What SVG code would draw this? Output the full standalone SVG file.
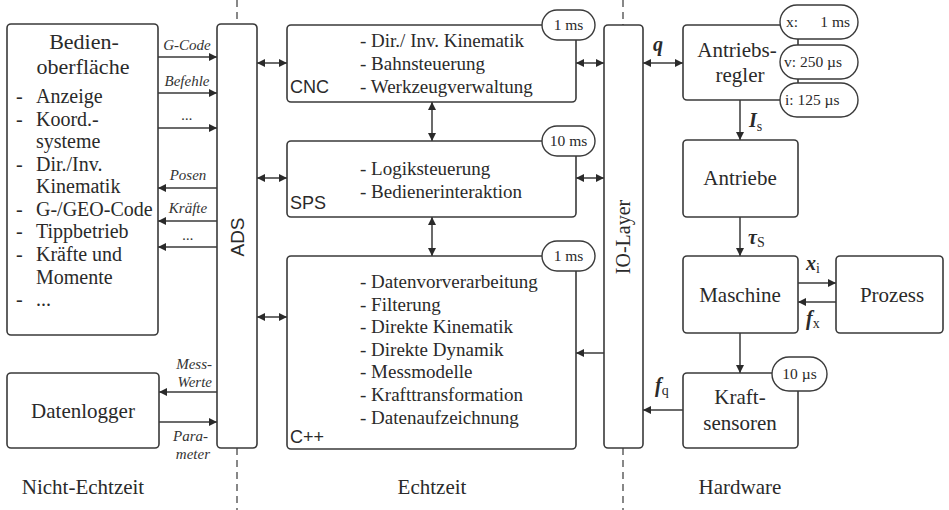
<svg xmlns="http://www.w3.org/2000/svg" width="949" height="510" viewBox="0 0 949 510">
<style>
.box{fill:#fff;stroke:#3a3a3a;stroke-width:1.6}
.pill{fill:#fff;stroke:#3a3a3a;stroke-width:1.4}
.ln{fill:none;stroke:#3a3a3a;stroke-width:1.5}
.dash{fill:none;stroke:#555;stroke-width:1.4;stroke-dasharray:7,5}
.s{font-family:"Liberation Serif","DejaVu Serif",serif;fill:#2a2a2a}
.ss{font-family:"Liberation Sans","DejaVu Sans",sans-serif;fill:#2a2a2a}
.lst{font-size:19px}
.lft{font-size:20px}
.ttl{font-size:22px}
.hw{font-size:21px}
.it{font-family:"Liberation Serif",serif;font-style:italic;font-size:15px;fill:#333}
.bdg{font-size:15.5px}
.m{font-family:"Liberation Serif",serif;font-style:italic;font-weight:bold;font-size:20px;fill:#2a2a2a}
.sub{font-family:"Liberation Serif",serif;font-style:normal;font-weight:normal;font-size:14px}
.mid{text-anchor:middle}
</style>
<defs>
<marker id="ah" viewBox="0 0 10 10" refX="10" refY="5" markerWidth="10" markerHeight="8" markerUnits="userSpaceOnUse" orient="auto-start-reverse">
<path d="M0,0 L10,5 L0,10 z" fill="#2a2a2a"/>
</marker>
</defs>

<g id="dividers">
<path class="dash" d="M237,0 V24 M237,448 V510 M623,0 V25 M623,448 V510"/>
</g>

<g id="connectors">
<path class="ln" marker-end="url(#ah)" d="M158,57 H217"/>
<path class="ln" marker-end="url(#ah)" d="M158,93 H217"/>
<path class="ln" marker-end="url(#ah)" d="M158,128 H217"/>
<path class="ln" marker-end="url(#ah)" d="M217,188 H158"/>
<path class="ln" marker-end="url(#ah)" d="M217,221 H158"/>
<path class="ln" marker-end="url(#ah)" d="M217,247 H158"/>
<path class="ln" marker-end="url(#ah)" d="M217,392 H159"/>
<path class="ln" marker-end="url(#ah)" d="M159,422 H217"/>
<path class="ln" marker-start="url(#ah)" marker-end="url(#ah)" d="M257,63 H287"/>
<path class="ln" marker-start="url(#ah)" marker-end="url(#ah)" d="M257,178 H287"/>
<path class="ln" marker-start="url(#ah)" marker-end="url(#ah)" d="M257,317 H287"/>
<path class="ln" marker-start="url(#ah)" marker-end="url(#ah)" d="M432,102 V141"/>
<path class="ln" marker-start="url(#ah)" marker-end="url(#ah)" d="M432,217 V256"/>
<path class="ln" marker-start="url(#ah)" marker-end="url(#ah)" d="M576,63 H604"/>
<path class="ln" marker-start="url(#ah)" marker-end="url(#ah)" d="M576,178 H604"/>
<path class="ln" marker-end="url(#ah)" d="M604,353 H576"/>
<path class="ln" marker-start="url(#ah)" marker-end="url(#ah)" d="M643,63 H683"/>
<path class="ln" marker-end="url(#ah)" d="M740,100 V140"/>
<path class="ln" marker-end="url(#ah)" d="M740,217 V256"/>
<path class="ln" marker-end="url(#ah)" d="M798,283 H836"/>
<path class="ln" marker-end="url(#ah)" d="M836,302 H798"/>
<path class="ln" marker-end="url(#ah)" d="M740,333 V373"/>
<path class="ln" marker-end="url(#ah)" d="M683,410 H643"/>
<text class="it mid" x="187" y="50">G-Code</text>
<text class="it mid" x="187" y="86">Befehle</text>
<text class="it mid" x="187" y="120">...</text>
<text class="it mid" x="188" y="180">Posen</text>
<text class="it mid" x="188" y="213">Kräfte</text>
<text class="it mid" x="188" y="240">...</text>
<text class="it" x="212" y="369" text-anchor="end">Mess-</text>
<text class="it" x="212" y="387" text-anchor="end">Werte</text>
<text class="it" x="208" y="441" text-anchor="end">Para-</text>
<text class="it" x="210" y="459" text-anchor="end">meter</text>
<text class="m" x="653" y="51">q</text>
<text class="m" x="749" y="127">I<tspan class="sub" dy="4">s</tspan></text>
<text class="m" x="748" y="244">τ<tspan class="sub" dy="3" font-size="16">S</tspan></text>
<text class="m" x="806" y="270">x<tspan class="sub" dy="3">i</tspan></text>
<text class="m" x="806" y="325">f<tspan class="sub" dy="3">x</tspan></text>
<text class="m" x="655" y="392">f<tspan class="sub" dy="3">q</tspan></text>
</g>

<g id="bedienoberflaeche">
<rect class="box" x="7" y="24" width="151" height="311" rx="4"/>
<text class="s ttl mid" x="84" y="49">Bedien-</text>
<text class="s ttl mid" x="83" y="74">oberfläche</text>
<g class="s lft">
<text x="16" y="103">-</text><text x="36" y="103">Anzeige</text>
<text x="16" y="126">-</text><text x="36" y="126">Koord.-</text>
<text x="36" y="148">systeme</text>
<text x="16" y="171">-</text><text x="36" y="171">Dir./Inv.</text>
<text x="36" y="193">Kinematik</text>
<text x="16" y="216">-</text><text x="36" y="216">G-/GEO-Code</text>
<text x="16" y="238">-</text><text x="36" y="238">Tippbetrieb</text>
<text x="16" y="261">-</text><text x="36" y="261">Kräfte und</text>
<text x="36" y="284">Momente</text>
<text x="16" y="306">-</text><text x="36" y="306">...</text>
</g>
</g>

<g id="datenlogger">
<rect class="box" x="7" y="373" width="152" height="75" rx="4"/>
<text class="s mid" font-family="Liberation Serif, serif" font-size="21" x="83" y="418">Datenlogger</text>
</g>

<g id="ads">
<rect class="box" x="217" y="24" width="40" height="424" rx="4"/>
<text class="ss mid" font-size="19" transform="translate(244,237) rotate(-90)">ADS</text>
</g>

<g id="cnc">
<rect class="box" x="287" y="25" width="289" height="77" rx="4"/>
<text class="ss" font-size="18" x="290" y="93">CNC</text>
<g class="s lst">
<text x="360" y="47">- Dir./ Inv. Kinematik</text>
<text x="360" y="70">- Bahnsteuerung</text>
<text x="360" y="93">- Werkzeugverwaltung</text>
</g>
<rect class="pill" x="542" y="10" width="53" height="30" rx="15"/>
<text class="s bdg mid" x="568.5" y="30">1 ms</text>
</g>

<g id="sps">
<rect class="box" x="287" y="141" width="289" height="76" rx="4"/>
<text class="ss" font-size="18" x="290" y="209">SPS</text>
<g class="s lst">
<text x="360" y="175">- Logiksteuerung</text>
<text x="360" y="198">- Bedienerinteraktion</text>
</g>
<rect class="pill" x="542" y="126" width="53" height="30" rx="15"/>
<text class="s bdg mid" x="568.5" y="146">10 ms</text>
</g>

<g id="cpp">
<rect class="box" x="287" y="256" width="289" height="193" rx="4"/>
<text class="ss" font-size="18" x="290" y="443">C++</text>
<g class="s lst">
<text x="360" y="288">- Datenvorverarbeitung</text>
<text x="360" y="311">- Filterung</text>
<text x="360" y="333">- Direkte Kinematik</text>
<text x="360" y="356">- Direkte Dynamik</text>
<text x="360" y="378">- Messmodelle</text>
<text x="360" y="401">- Krafttransformation</text>
<text x="360" y="424">- Datenaufzeichnung</text>
</g>
<rect class="pill" x="542" y="241" width="53" height="30" rx="15"/>
<text class="s bdg mid" x="568.5" y="261">1 ms</text>
</g>

<g id="io-layer">
<rect class="box" x="604" y="25" width="39" height="423" rx="4"/>
<text class="s mid" font-size="20" transform="translate(630,237) rotate(-90)">IO-Layer</text>
</g>

<g id="antriebsregler">
<rect class="box" x="683" y="25" width="115" height="75" rx="4"/>
<text class="s hw mid" font-family="Liberation Serif, serif" x="737" y="57">Antriebs-</text>
<text class="s hw mid" font-family="Liberation Serif, serif" x="740" y="82">regler</text>
<rect class="pill" x="780" y="5" width="78" height="34" rx="17"/>
<text class="s bdg" x="786" y="27">x:</text>
<text class="s bdg" x="850" y="27" text-anchor="end">1 ms</text>
<rect class="pill" x="780" y="45" width="78" height="34" rx="17"/>
<text class="s bdg" x="784" y="67">v: 250 µs</text>
<rect class="pill" x="780" y="83" width="78" height="34" rx="17"/>
<text class="s bdg" x="785" y="105">i:  125 µs</text>
</g>

<g id="antriebe">
<rect class="box" x="683" y="140" width="115" height="77" rx="4"/>
<text class="s hw mid" font-family="Liberation Serif, serif" x="740" y="185">Antriebe</text>
</g>

<g id="maschine">
<rect class="box" x="683" y="256" width="115" height="77" rx="4"/>
<text class="s hw mid" font-family="Liberation Serif, serif" x="740" y="302">Maschine</text>
</g>

<g id="prozess">
<rect class="box" x="836" y="256" width="107" height="77" rx="4"/>
<text class="s hw mid" font-family="Liberation Serif, serif" x="892" y="302">Prozess</text>
</g>

<g id="kraftsensoren">
<rect class="box" x="683" y="373" width="115" height="75" rx="4"/>
<text class="s hw mid" font-family="Liberation Serif, serif" x="740" y="404">Kraft-</text>
<text class="s hw mid" font-family="Liberation Serif, serif" x="740" y="430">sensoren</text>
<rect class="pill" x="772" y="357" width="55" height="34" rx="17"/>
<text class="s bdg mid" x="799.5" y="379">10 µs</text>
</g>

<g id="zones">
<text class="s mid" font-size="21" x="83" y="494">Nicht-Echtzeit</text>
<text class="s mid" font-size="21" x="432" y="494">Echtzeit</text>
<text class="s mid" font-size="21" x="740" y="494">Hardware</text>
</g>
</svg>
